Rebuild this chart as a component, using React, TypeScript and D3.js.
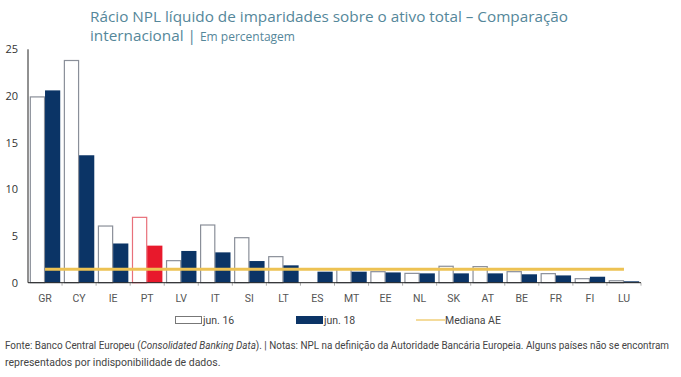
import React from "react";
import * as d3 from "d3";

const categories = ["GR","CY","IE","PT","LV","IT","SI","LT","ES","MT","EE","NL","SK","AT","BE","FR","FI","LU"];
const jun16: (number | null)[] = [19.9,23.8,6.07,7.0,2.36,6.18,4.82,2.79,null,1.45,1.18,1.0,1.76,1.72,1.18,0.97,0.43,0.21];
const jun18: number[] = [20.6,13.65,4.2,3.97,3.4,3.25,2.32,1.86,1.18,1.18,1.1,1.0,1.0,1.0,0.9,0.78,0.64,0.15];
const medianAE = 1.44;
const yTicks = [0,5,10,15,20,25];
const highlight = "PT";

const W = 681, H = 377;
const left = 28, right = 641, top = 49.3, bottom = 282.7;

export default function App() {
  const x = d3.scaleBand<string>().domain(categories).range([left, right]).paddingInner(0).paddingOuter(0);
  const bw = x.bandwidth();
  const inner = d3.scaleBand<string>().domain(["a","b"]).range([0, bw]).paddingInner(0).paddingOuter(0.12);
  const y = d3.scaleLinear().domain([0,25]).range([bottom, top]);
  const navy = "#0B3466";
  const red = "#E8192C";
  const gold = "#EDC253";
  const sans = "'Open Sans', sans-serif";
  const narrow = "'Liberation Sans Narrow', 'Roboto', sans-serif";
  return (
    <svg width={W} height={H} style={{position:"absolute", left:0, top:0, background:"#fff"}}>
      <text x={90} y={22} fontFamily={sans} fontSize={15.3} fill="#55879A">Rácio NPL líquido de imparidades sobre o ativo total – Comparação</text>
      <text x={90} y={41} fontFamily={sans} fontSize={15.3} fill="#55879A">internacional <tspan fill="#55879A">|</tspan> <tspan fontSize={12}>Em percentagem</tspan></text>
      {yTicks.map(t => (
        <text key={t} x={18} y={y(t)+4} textAnchor="end" fontFamily={sans} fontSize={11} fill="#333">{t}</text>
      ))}
      {categories.map((c,i) => {
        const x0 = x(c)!;
        const v16 = jun16[i];
        const v18 = jun18[i];
        const hl = c === highlight;
        return (
          <g key={c}>
            {v16 != null && (
              <rect x={x0+inner("a")!+0.5} y={y(v16)} width={inner.bandwidth()-1} height={bottom-y(v16)} fill="#fff" stroke={hl ? "#E8707A" : "#8a8f99"} strokeWidth={1.2}/>
            )}
            <rect x={x0+inner("b")!} y={y(v18)} width={inner.bandwidth()} height={bottom-y(v18)} fill={hl ? red : navy}/>
            <text x={x0+bw/2} y={302} textAnchor="middle" fontFamily={narrow} fontSize={10.5} fill="#555">{c}</text>
          </g>
        );
      })}
      {categories.slice(1).concat(["_end"]).map((c,i) => {
        const xx = c === "_end" ? right : x(c)!;
        return <line key={i} x1={xx} x2={xx} y1={bottom} y2={bottom+3} stroke="#999" strokeWidth={0.8}/>;
      })}
      <line x1={left} x2={right} y1={bottom} y2={bottom} stroke="#222" strokeWidth={1}/>
      <line x1={left} x2={left} y1={top} y2={bottom} stroke="#222" strokeWidth={1}/>
      <line x1={x(categories[0])!+bw/2} x2={x(categories[categories.length-1])!+bw/2} y1={y(medianAE)} y2={y(medianAE)} stroke={gold} strokeWidth={3}/>
      <rect x={175.5} y={316.5} width={26} height={7} fill="#fff" stroke="#777" strokeWidth={1}/>
      <text x={203} y={324} fontFamily={narrow} fontSize={10.5} fill="#444">jun. 16</text>
      <rect x={296} y={316} width={27} height={8} fill={navy}/>
      <text x={324} y={324} fontFamily={narrow} fontSize={10.5} fill="#444">jun. 18</text>
      <line x1={416} x2={445} y1={320} y2={320} stroke="#F0CF7A" strokeWidth={1.5}/>
      <text x={445} y={324} fontFamily={narrow} fontSize={10.5} fill="#444">Mediana AE</text>
      <text x={5} y={349} fontFamily={narrow} fontSize={10} fill="#444" textLength={664} lengthAdjust="spacingAndGlyphs">Fonte: Banco Central Europeu (<tspan fontStyle="italic">Consolidated Banking Data</tspan>).  |  Notas: NPL na definição da Autoridade Bancária Europeia. Alguns países não se encontram</text>
      <text x={5} y={366} fontFamily={narrow} fontSize={10.5} fill="#444">representados por indisponibilidade de dados.</text>
    </svg>
  );
}
